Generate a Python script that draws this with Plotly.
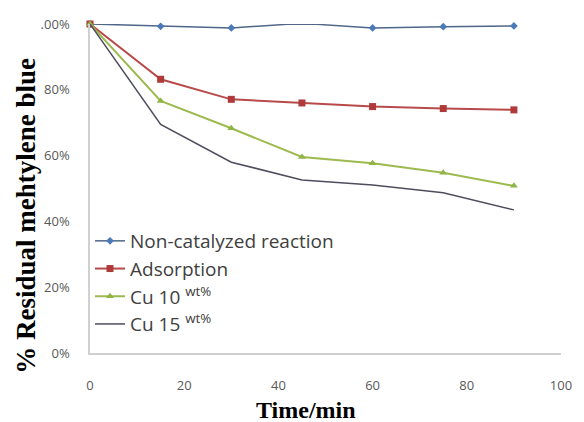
import plotly.graph_objects as go

time_min = [0, 15, 30, 45, 60, 75, 90]
non_catalyzed = [1.000, 0.993, 0.988, 1.002, 0.988, 0.992, 0.994]
adsorption = [1.000, 0.832, 0.771, 0.760, 0.749, 0.743, 0.739]
cu10 = [1.000, 0.766, 0.683, 0.596, 0.577, 0.548, 0.508]
cu15 = [1.000, 0.695, 0.580, 0.526, 0.511, 0.487, 0.435]

series_names = ["Non-catalyzed reaction", "Adsorption", "Cu 10 <sup>wt%</sup>", "Cu 15 <sup>wt%</sup>"]
y_ticks = [0, 0.2, 0.4, 0.6, 0.8, 1.0]
y_tick_labels = ["0%", "20%", "40%", "60%", "80%", ".00%"]
x_ticks = [0, 20, 40, 60, 80, 100]

PLOT_W = 584 - 90 - 18
PLOT_H = 353 - 24

fig = go.Figure()
fig.add_trace(go.Scatter(x=time_min, y=non_catalyzed, name=series_names[0], mode="lines+markers",
                         line=dict(color="#4f6688", width=1.5), cliponaxis=False,
                         marker=dict(symbol="diamond", size=6, color="#4a7ab8"), legendgroup="a"))
fig.add_trace(go.Scatter(x=time_min, y=adsorption, name=series_names[1], mode="lines+markers",
                         line=dict(color="#b84a4a", width=2), cliponaxis=False,
                         marker=dict(symbol="square", size=7, color="#b03a3a"), legendgroup="b"))
fig.add_trace(go.Scatter(x=time_min, y=cu10, name=series_names[2], mode="lines+markers",
                         line=dict(color="#9dba4e", width=2), cliponaxis=False,
                         marker=dict(symbol="triangle-up", size=7, color="#8fb545"), legendgroup="c"))
fig.add_trace(go.Scatter(x=time_min, y=cu15, name=series_names[3], mode="lines",
                         line=dict(color="#4d4d5e", width=1.5), cliponaxis=False, legendgroup="d"))

fig.update_layout(
    width=584, height=422,
    margin=dict(l=90, r=18, t=24, b=69),
    paper_bgcolor="white", plot_bgcolor="white",
    font=dict(family="Open Sans", color="#595959", size=13),
    showlegend=True,
    legend=dict(x=0.0, y=(353 - 222) / PLOT_H, xanchor="left", yanchor="top",
                font=dict(family="Open Sans", size=19, color="#404040"),
                bgcolor="rgba(0,0,0,0)", tracegroupgap=0, itemwidth=30),
    xaxis=dict(range=[0, 100], tickvals=x_ticks, showgrid=False, zeroline=False,
               showline=True, linecolor="#d0d0d0", linewidth=1.5, ticks="",
               ticklabelstandoff=20, tickfont=dict(size=13, color="#595959")),
    yaxis=dict(range=[0, 1.0], tickvals=y_ticks, ticktext=y_tick_labels, showgrid=False,
               zeroline=False, showline=True, linecolor="#d0d0d0", linewidth=1.5, ticks="",
               ticklabelstandoff=16, tickfont=dict(size=13, color="#595959")),
    annotations=[
        dict(text="<b>% Residual mehtylene blue</b>", xref="paper", yref="paper",
             x=(25 - 90) / PLOT_W, y=(353 - 216) / PLOT_H, textangle=-90, showarrow=False,
             font=dict(family="Liberation Serif", size=27, color="black"),
             xanchor="center", yanchor="middle"),
        dict(text="<b>Time/min</b>", xref="paper", yref="paper",
             x=(308 - 90) / PLOT_W, y=-(410 - 353) / PLOT_H, showarrow=False,
             font=dict(family="Liberation Serif", size=24, color="black"),
             xanchor="center", yanchor="middle"),
    ],
)

fig.write_html("out.html")
